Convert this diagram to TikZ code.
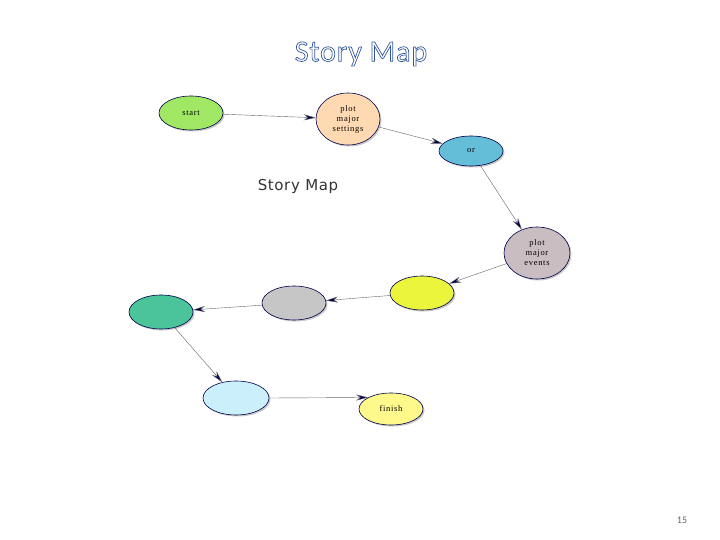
\documentclass[tikz,border=0pt]{standalone}
\usepackage{fontspec}
\setmainfont{Liberation Serif}
\newfontfamily\carl{Carlito}
\newfontfamily\dejas{DejaVu Sans}
\usetikzlibrary{shapes.geometric,arrows.meta,shadows}
\begin{document}
\begin{tikzpicture}[x=1pt,y=-1pt,
  el/.style={ellipse,draw=black!70!blue,line width=0.6pt,inner sep=0pt,font=\fontsize{8.5}{10}\selectfont\addfontfeature{LetterSpace=8},align=center,
    drop shadow={shadow xshift=1.5pt,shadow yshift=-1.5pt,fill=black!35,opacity=0.6}},
  con/.style={draw=black!60,line width=0.4pt,-{Stealth[length=12pt,width=6pt,fill=blue!30!black]}}]
\useasboundingbox (0,0) rectangle (720,540);
\fill[white] (0,0) rectangle (720,540);
\node[el,fill={rgb,255:red,160;green,232;blue,100},minimum width=64,minimum height=34] (start) at (191,113) {start};
\node[el,fill=orange!30,minimum width=64,minimum height=52] (pms) at (348,119) {plot\\major\\settings};
\node[el,fill={rgb,255:red,100;green,190;blue,215},minimum width=64,minimum height=30] (or) at (471,151) {or};
\node[el,fill=purple!15!gray!45,minimum width=66,minimum height=52] (pme) at (537,253) {plot\\major\\events};
\node[el,fill={rgb,255:red,235;green,245;blue,60},minimum width=64,minimum height=34] (y) at (422,293) {};
\node[el,fill=gray!45,minimum width=64,minimum height=34] (g) at (294,303) {};
\node[el,fill={rgb,255:red,75;green,195;blue,155},minimum width=64,minimum height=34] (t) at (161,312) {};
\node[el,fill=cyan!20,minimum width=66,minimum height=34] (c) at (236,398) {};
\node[el,fill=yellow!45,minimum width=64,minimum height=32] (f) at (391,409) {finish};
\draw[con] (start) -- (pms);
\draw[con] (pms) -- (or);
\draw[con] (or) -- (pme);
\draw[con] (pme) -- (y);
\draw[con] (y) -- (g);
\draw[con] (g) -- (t);
\draw[con] (t) -- (c);
\draw[con] (c.east) -- (f.north west);
\node[font=\dejas\fontsize{15}{16}\selectfont\addfontfeature{LetterSpace=4},text=black!80] (sm) at (298,186) {Story Map};
\node[font=\carl\fontsize{30}{32}\selectfont\addfontfeature{LetterSpace=3}] (title) at (361,54)
  {\special{pdf:literal direct 2 Tr 0.7 w 0.2 0.35 0.6 RG 1 1 1 rg}Story Map\special{pdf:literal direct 0 Tr}};
\node[font=\carl\fontsize{10}{12}\selectfont,text=black!60] (pg) at (682,520) {15};
\end{tikzpicture}
\end{document}
